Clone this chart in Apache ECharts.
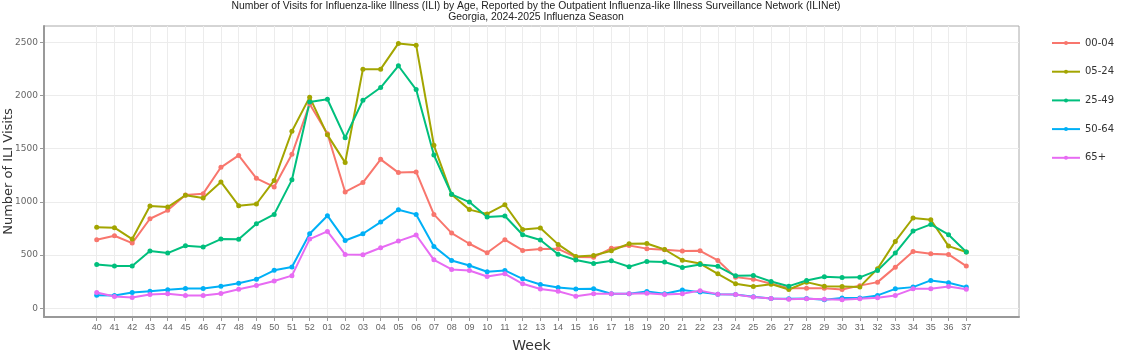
<!DOCTYPE html>
<html>
    <head>
        <meta charset="utf-8">
        <script src="https://cdn.jsdelivr.net/npm/echarts@6/dist/echarts.min.js"></script>
        <style>
            html, body { margin: 0; padding: 0; background: #fff; }
            #main { width: 1123px; height: 353px; }
        </style>
    </head>
    <body>
        <div id="main"></div>

        <script>

            var weeks = ['40', '41', '42', '43', '44', '45', '46', '47', '48', '49', '50', '51', '52',
                '01', '02', '03', '04', '05', '06', '07', '08', '09', '10', '11', '12', '13', '14', '15',
                '16', '17', '18', '19', '20', '21', '22', '23', '24', '25', '26', '27', '28', '29', '30',
                '31', '32', '33', '34', '35', '36', '37'];

            var age0004 = [644, 681, 612, 841, 920, 1064, 1077, 1325, 1437, 1221, 1140, 1447, 1920,
                1640, 1093, 1181, 1400, 1275, 1281, 882, 706, 606, 521, 644, 543, 556, 558, 481,
                480, 563, 590, 560, 550, 538, 540, 449, 292, 273, 229, 188, 188, 188, 176,
                212, 245, 386, 534, 512, 506, 396];
            var age0524 = [760, 757, 650, 961, 951, 1062, 1036, 1187, 964, 980, 1202, 1664, 1985,
                1630, 1369, 2248, 2248, 2490, 2474, 1532, 1069, 927, 886, 973, 741, 755, 600, 487,
                495, 540, 606, 608, 552, 451, 420, 323, 229, 204, 226, 176, 245, 207, 204,
                200, 371, 628, 848, 832, 584, 528];
            var age2549 = [411, 396, 396, 537, 518, 587, 575, 650, 648, 795, 882, 1207, 1940,
                1965, 1604, 1956, 2075, 2280, 2056, 1441, 1071, 998, 857, 867, 691, 642, 508, 453,
                420, 445, 390, 440, 435, 382, 411, 394, 304, 308, 251, 207, 261, 295, 289,
                290, 355, 518, 725, 788, 691, 528];
            var age5064 = [122, 119, 148, 160, 173, 185, 185, 207, 235, 273, 356, 388, 700,
                870, 637, 700, 810, 926, 882, 581, 449, 402, 342, 355, 276, 223, 194, 180,
                182, 135, 135, 158, 135, 170, 151, 130, 129, 107, 91, 88, 91, 79, 95,
                96, 120, 182, 198, 261, 239, 198];
            var age65 = [148, 110, 100, 129, 135, 119, 119, 138, 178, 213, 256, 306, 650,
                722, 505, 502, 568, 631, 688, 455, 364, 355, 298, 323, 229, 180, 160, 113,
                135, 135, 135, 140, 128, 135, 165, 132, 129, 104, 91, 85, 88, 83, 79,
                88, 98, 120, 182, 182, 204, 179];

            var groups = ['00-04', '05-24', '25-49', '50-64', '65+'];
            var colors = ['#f8766d', '#a3a500', '#00bf7d', '#00b0f6', '#e76bf3'];
            var yTicks = [0, 500, 1000, 1500, 2000, 2500];

            var chart = echarts.init(document.getElementById('main'));

            var weekIdx = weeks.map(function (w, i) { return i; });

            function pairs(values) {
                return values.map(function (v, i) { return [i, v]; });
            }

            var seriesData = [age0004, age0524, age2549, age5064, age65];
            var series = groups.map(function (name, k) {
                return {
                    name: name,
                    type: 'line',
                    data: pairs(seriesData[k]),
                    symbol: 'circle',
                    symbolSize: 5,
                    lineStyle: { width: 2, color: colors[k] },
                    itemStyle: { color: colors[k] }
                };
            });

            chart.setOption({
                animation: false,
                title: {
                    text: 'Number of Visits for Influenza-like Illness (ILI) by Age, Reported by the Outpatient Influenza-like Illness Surveillance Network (ILINet)\nGeorgia, 2024-2025 Influenza Season',
                    left: 536,
                    top: 1,
                    padding: 0,
                    textAlign: 'center',
                    textStyle: {
                        fontFamily: 'sans-serif',
                        fontSize: 10.4,
                        fontWeight: 'normal',
                        color: '#222',
                        lineHeight: 11
                    }
                },
                legend: {
                    orient: 'vertical',
                    left: 1046,
                    top: 33,
                    itemWidth: 28,
                    itemHeight: 5,
                    itemGap: 18.7,
                    textStyle: { fontSize: 10, color: '#333', fontFamily: 'DejaVu Sans' },
                    data: groups
                },
                grid: {
                    left: 44,
                    right: 104,
                    top: 26,
                    bottom: 36,
                    outerBoundsMode: 'none',
                    show: true,
                    borderColor: '#aaa',
                    borderWidth: 1
                },
                xAxis: {
                    type: 'value',
                    min: -2.97,
                    max: 51.97,
                    name: 'Week',
                    nameLocation: 'middle',
                    nameGap: 22,
                    nameMoveOverlap: false,
                    nameTextStyle: { fontSize: 14, color: '#333', fontFamily: 'DejaVu Sans' },
                    axisLine: { onZero: false, lineStyle: { color: '#999', width: 2 } },
                    axisTick: { customValues: weekIdx, length: 4, lineStyle: { color: '#999' } },
                    axisLabel: {
                        customValues: weekIdx,
                        formatter: function (v) { return weeks[v]; },
                        fontSize: 9,
                        color: '#666',
                        margin: 6
                    },
                    splitLine: { show: true, lineStyle: { color: '#ececec', width: 1 } }
                },
                yAxis: {
                    type: 'value',
                    min: -83,
                    max: 2654,
                    name: 'Number of ILI Visits',
                    nameLocation: 'middle',
                    nameGap: 29,
                    nameMoveOverlap: false,
                    nameTextStyle: { fontSize: 13, color: '#333', fontFamily: 'DejaVu Sans' },
                    axisLine: { show: true, onZero: false, lineStyle: { color: '#999', width: 2 } },
                    axisTick: { show: true, customValues: yTicks, length: 4, lineStyle: { color: '#999' } },
                    axisLabel: {
                        customValues: yTicks,
                        formatter: function (v) { return String(v); },
                        fontSize: 9,
                        color: '#666',
                        margin: 6,
                        fontFamily: 'DejaVu Sans'
                    },
                    splitLine: { show: true, lineStyle: { color: '#ececec', width: 1 } }
                },
                series: series
            });

        </script>
    </body>
</html>
